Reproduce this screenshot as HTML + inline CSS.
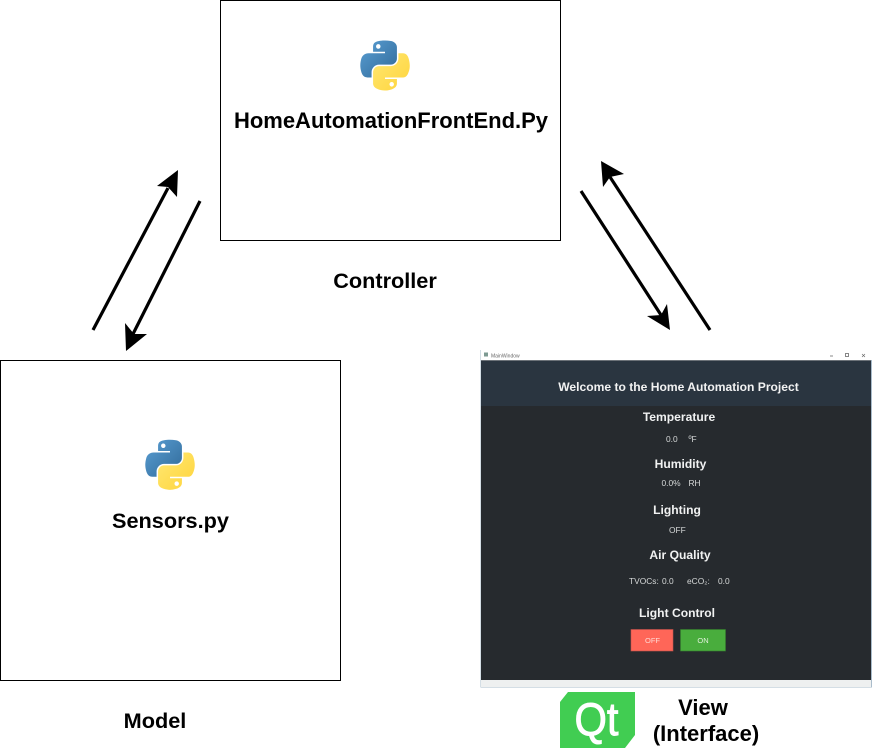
<!DOCTYPE html>
<html><head><meta charset="utf-8">
<style>
html,body{margin:0;padding:0;background:#fff;width:873px;height:749px;overflow:hidden}
svg{display:block}
text{font-family:"Liberation Sans",sans-serif}
.b{font-weight:bold;fill:#000;text-anchor:middle;font-size:21.7px}
.h{font-weight:bold;fill:#f1f2f2;text-anchor:middle;font-size:12.1px}
.s{fill:#d6d8d8;font-size:8.4px}
</style></head><body>
<svg width="873" height="749" viewBox="0 0 873 749" xmlns="http://www.w3.org/2000/svg">
<defs>
<linearGradient id="pb" x1="0" y1="0" x2="1" y2="1"><stop offset="0" stop-color="#5a9fd4"/><stop offset="1" stop-color="#306998"/></linearGradient>
<linearGradient id="py" x1="0" y1="0" x2="1" y2="1"><stop offset="0" stop-color="#ffe873"/><stop offset="1" stop-color="#ffd43b"/></linearGradient>
<filter id="soft" x="0" y="0" width="100%" height="100%"><feGaussianBlur stdDeviation="0.3"/></filter>
<g id="pylogo">
<path fill="url(#pb)" d="M54.919 0c-4.584.022-8.961.413-12.812 1.095C30.76 3.099 28.7 7.295 28.7 15.032v10.219h26.813v3.406H18.638c-7.793 0-14.616 4.684-16.75 13.594-2.462 10.213-2.571 16.586 0 27.25 1.905 7.938 6.457 13.594 14.25 13.594h9.219v-12.25c0-8.85 7.657-16.656 16.75-16.656h26.781c7.454 0 13.406-6.138 13.406-13.625V15.032c0-7.266-6.13-12.725-13.406-13.937C64.282.328 59.502-.02 54.918.001zm-14.5 8.219c2.77 0 5.031 2.299 5.031 5.125 0 2.816-2.262 5.094-5.031 5.094-2.78 0-5.031-2.278-5.031-5.094 0-2.826 2.252-5.125 5.031-5.125z"/>
<path fill="url(#py)" d="M85.638 28.657v11.906c0 9.231-7.826 17-16.75 17H42.106c-7.336 0-13.406 6.278-13.406 13.625v25.531c0 7.266 6.319 11.54 13.406 13.625 8.488 2.496 16.627 2.947 26.781 0 6.75-1.954 13.406-5.888 13.406-13.625V86.501H55.513v-3.405H95.7c7.793 0 10.696-5.436 13.406-13.594 2.8-8.399 2.68-16.476 0-27.25-1.925-7.758-5.604-13.594-13.406-13.594zM70.575 93.313c2.78 0 5.031 2.278 5.031 5.094 0 2.826-2.252 5.125-5.031 5.125-2.77 0-5.031-2.299-5.031-5.125 0-2.816 2.262-5.094 5.031-5.094z"/>
</g>
</defs>

<rect x="220.5" y="0.5" width="340" height="240" fill="#fff" stroke="#000"/>
<rect x="0.5" y="360.5" width="340" height="320" fill="#fff" stroke="#000"/>

<use href="#pylogo" transform="translate(360.3,40.5) scale(0.445)"/>
<use href="#pylogo" transform="translate(145.3,439.8) scale(0.445)"/>

<text class="b" x="391" y="128" style="font-size:22px">HomeAutomationFrontEnd.Py</text>
<text class="b" x="170.5" y="528">Sensors.py</text>
<text class="b" x="385" y="288">Controller</text>
<text class="b" x="155" y="728">Model</text>
<text class="b" x="703" y="715" style="font-size:22px">View</text>
<text class="b" x="706" y="741" style="font-size:22px">(Interface)</text>

<g stroke="#000" stroke-width="3.2" fill="none">
<line x1="93" y1="330" x2="168" y2="188"/>
<line x1="200" y1="201" x2="133" y2="334"/>
<line x1="710" y1="330" x2="610" y2="177"/>
<line x1="581" y1="191" x2="661" y2="315"/>
</g>
<g fill="#000">
<polygon points="178,170 177,197 168,187 157,186"/>
<polygon points="126,351 125,323 134,334 147,334"/>
<polygon points="601,161 624,174 610,177 603,187"/>
<polygon points="670,330 647,316 661,315 667,304"/>
</g>

<!-- Application window -->
<g filter="url(#soft)">
<rect x="480.5" y="350" width="391" height="337.5" fill="#fff"/>
<rect x="481" y="360" width="390" height="321" fill="#262b2f"/>
<rect x="481" y="360" width="390" height="46" fill="#2c3440"/>
<rect x="481" y="360" width="390" height="1" fill="#6c7278"/>
<rect x="481" y="680" width="390" height="7" fill="#eef0f0"/>
<rect x="480.5" y="350.5" width="391" height="337" fill="none" stroke="#a9bccb" stroke-width="1"/>
<rect x="481" y="350" width="391" height="10" fill="#fff"/>
<rect x="484" y="352.5" width="4" height="4" fill="#7d9a92"/>
<text x="491" y="357.5" style="font-size:5px" fill="#666">MainWindow</text>
<line x1="830" y1="356" x2="833" y2="356" stroke="#555" stroke-width="0.7"/>
<rect x="845.5" y="353.5" width="3" height="3" fill="none" stroke="#555" stroke-width="0.7"/>
<path d="M862 354l3 3m0-3l-3 3" stroke="#666" stroke-width="0.6"/>

<text class="h" x="678.5" y="391">Welcome to the Home Automation Project</text>
<text class="h" x="679" y="421">Temperature</text>
<text class="s" x="666" y="442">0.0</text>
<text class="s" x="688.5" y="442">ºF</text>
<text class="h" x="680.5" y="468">Humidity</text>
<text class="s" x="661.5" y="486">0.0%</text>
<text class="s" x="688.5" y="486">RH</text>
<text class="h" x="677" y="514">Lighting</text>
<text class="s" x="669" y="533">OFF</text>
<text class="h" x="680" y="559">Air Quality</text>
<text class="s" x="629" y="584">TVOCs:</text>
<text class="s" x="662" y="584">0.0</text>
<text class="s" x="687" y="584">eCO₂:</text>
<text class="s" x="718" y="584">0.0</text>
<text class="h" x="677" y="617">Light Control</text>
<rect x="631" y="629.5" width="42" height="21.5" fill="#ff6659" stroke="#c4534b" stroke-width="0.6"/>
<rect x="680.5" y="629.5" width="45" height="21.5" fill="#4aad3c" stroke="#357f2d" stroke-width="0.6"/>
<text x="652.5" y="643" style="font-size:7.5px" fill="#ffd9d2" text-anchor="middle">OFF</text>
<text x="703" y="643" style="font-size:7.5px" fill="#dff0da" text-anchor="middle">ON</text>
</g>

<!-- Qt logo -->
<polygon points="568,692 635,692 635,735 625,748 560,748 560,702" fill="#41cd52"/>
<text x="574.5" y="735" style="font-size:46px" fill="#fff" stroke="#fff" stroke-width="0.9" textLength="44" lengthAdjust="spacingAndGlyphs">Qt</text>
</svg>
</body></html>
